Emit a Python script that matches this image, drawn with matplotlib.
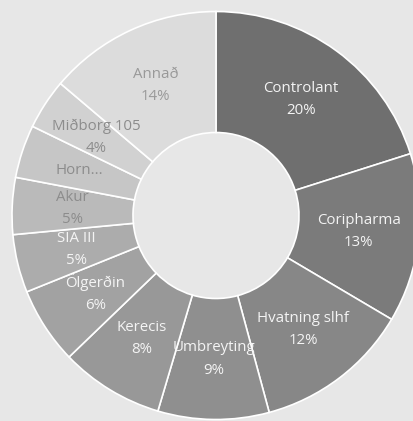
import numpy as np
import matplotlib
matplotlib.use('Agg')
import matplotlib.pyplot as plt

# share of portfolio (clockwise from 12 o'clock)
names = ['Controlant', 'Coripharma', 'Hvatning slhf', 'Umbreyting', 'Kerecis',
         'Ölgerðin', 'SIA III', 'Akur', 'Horn...', 'Miðborg 105', 'Annað']
shares = [20.1, 13.4, 12.3, 8.8, 8.2, 6.1, 4.6, 4.5, 4.2, 4.0, 13.8]
pct_labels = ['20%', '13%', '12%', '9%', '8%', '6%', '5%', '5%', '', '4%', '14%']

colors = ['#6f6f6f', '#7b7b7b', '#878787', '#8f8f8f', '#989898', '#a2a2a2',
          '#acacac', '#bababa', '#c6c6c6', '#d1d1d1', '#dcdcdc']
txt_colors = ['#f4f4f4'] * 7 + ['#8c8c8c', '#8c8c8c', '#8c8c8c', '#999999']

bg = '#e7e7e7'
W, H = 413, 421
fig = plt.figure(figsize=(W / 100, H / 100), dpi=100, facecolor=bg)
ax = fig.add_axes([0, 0, 1, 1])
ax.set_facecolor(bg)

cx, cy = 216, H - 215.5
r_out, r_in = 204, 83
wedges, _ = ax.pie(shares, colors=colors, startangle=90, counterclock=False,
                   radius=r_out, center=(cx, cy),
                   wedgeprops=dict(width=r_out - r_in, edgecolor='white', linewidth=1.2))

r_lab = (r_out + r_in) / 2
for w, n, p, tc in zip(wedges, names, pct_labels, txt_colors):
    ang = np.deg2rad((w.theta1 + w.theta2) / 2)
    x = cx + r_lab * np.cos(ang)
    y = cy + r_lab * np.sin(ang)
    s = n if p == '' else n + '\n' + p
    ax.text(x, y, s, ha='center', va='center', color=tc, fontsize=10.8,
            family='Open Sans', linespacing=1.65)

ax.set_xlim(0, W)
ax.set_ylim(0, H)
ax.set_aspect('equal')
ax.axis('off')

plt.savefig('out.png', dpi=100, facecolor=bg)
